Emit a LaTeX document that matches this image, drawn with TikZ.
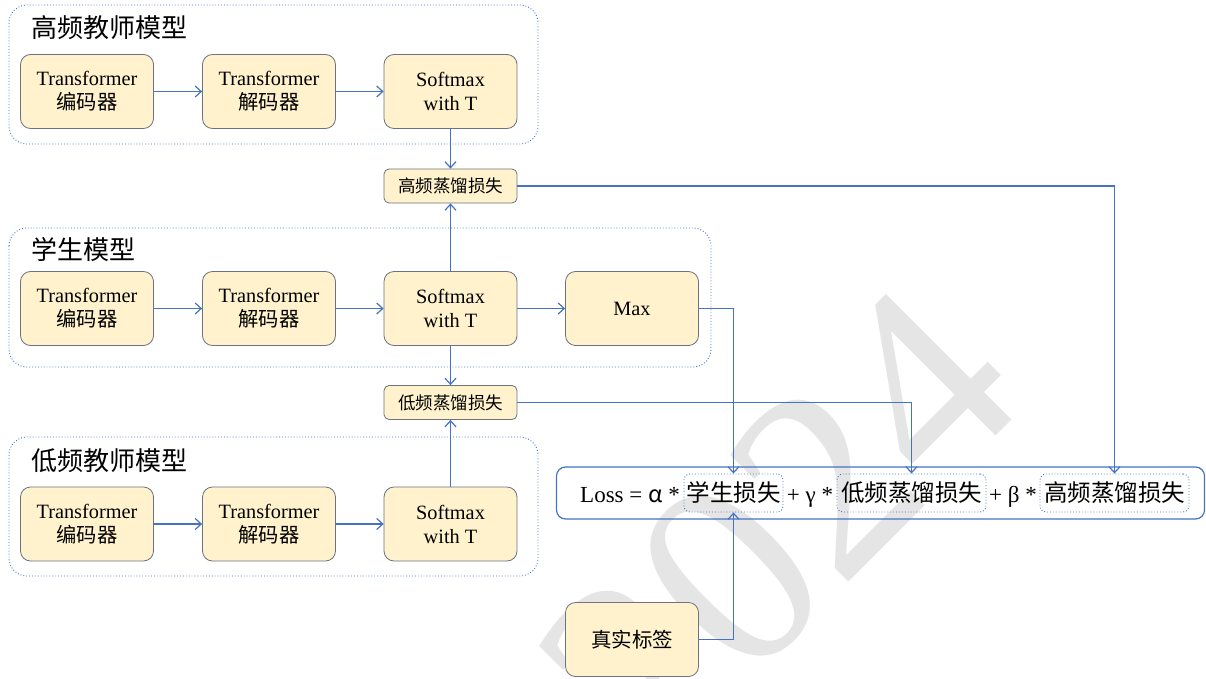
\documentclass[tikz,border=0pt]{standalone}
\usepackage{fontspec}
\setmainfont{Liberation Serif}
\newfontfamily\cjk{Noto Sans CJK SC}
\usetikzlibrary{arrows.meta}
\definecolor{boxfill}{RGB}{255,242,204}
\definecolor{boxline}{RGB}{105,115,130}
\definecolor{lineblue}{RGB}{68,114,196}
\definecolor{wmcol}{RGB}{229,229,229}
\begin{document}
\begin{tikzpicture}[x=1pt,y=-1pt,
  blk/.style={draw=boxline, fill=boxfill, line width=0.8pt, rounded corners=10pt, minimum width=133pt, minimum height=74pt, align=center, inner sep=1pt, font=\fontsize{20.3}{24}\selectfont},
  lossblk/.style={draw=boxline, fill=boxfill, line width=0.8pt, rounded corners=5pt, minimum width=133pt, minimum height=34pt, inner sep=1pt, font=\cjk\fontsize{17.5}{20}\selectfont},
  grp/.style={draw=lineblue, line width=0.9pt, dotted, rounded corners=18pt},
  ttl/.style={anchor=west, inner sep=0pt, font=\cjk\fontsize{26}{30}\selectfont},
  arr/.style={draw=lineblue, line width=1.2pt, -{Straight Barb[length=6pt,width=11pt]}},
  term/.style={draw=lineblue, line width=0.9pt, dotted, rounded corners=6pt, minimum height=38pt, inner sep=1pt, font=\cjk\fontsize{23.5}{26}\selectfont},
  op/.style={inner sep=0pt, font=\fontsize{23}{26}\selectfont}
]
\useasboundingbox (0,0) rectangle (1206,679);
% watermark
\node[text=wmcol, rotate=45, inner sep=0pt, font=\fontsize{270}{270}\selectfont] (wm) at (778,528) {2024};

% groups
\draw[grp] (9,5) rectangle (538,144);
\draw[grp] (9,228) rectangle (711,367);
\draw[grp] (9,437) rectangle (538,576);
\node[ttl] (t1title) at (31,28) {高频教师模型};
\node[ttl] (t2title) at (31,250) {学生模型};
\node[ttl] (t3title) at (31,461) {低频教师模型};

% row 1
\node[blk] (b11) at (87,91.5) {Transformer\\{\cjk 编码器}};
\node[blk] (b12) at (269,91.5) {Transformer\\{\cjk 解码器}};
\node[blk] (b13) at (450.5,91.5) {Softmax\\with T};
% row 2
\node[blk] (b21) at (87,308.5) {Transformer\\{\cjk 编码器}};
\node[blk] (b22) at (269,308.5) {Transformer\\{\cjk 解码器}};
\node[blk] (b23) at (450.5,308.5) {Softmax\\with T};
\node[blk] (mx) at (632,308.5) {Max};
% row 3
\node[blk] (b31) at (87,524) {Transformer\\{\cjk 编码器}};
\node[blk] (b32) at (269,524) {Transformer\\{\cjk 解码器}};
\node[blk] (b33) at (450.5,524) {Softmax\\with T};

% loss boxes
\node[lossblk] (hl) at (450.5,186) {高频蒸馏损失};
\node[lossblk] (ll) at (450.5,402.5) {低频蒸馏损失};

% ground truth
\node[blk, font=\cjk\fontsize{20.5}{24}\selectfont] (gt) at (632,639.5) {真实标签};

% loss formula
\node[draw=lineblue, line width=1.2pt, rounded corners=9pt, minimum width=648pt, minimum height=52pt, inner sep=0pt] (lossbox) at (880.5,493) {};
\node[op, anchor=base west] (lossL) at (580,502) {Loss = {\cjk α} *};
\node[term, minimum width=99pt] (t1) at (733.5,493) {学生损失};
\node[op, anchor=base] (p1) at (810,502) {+ γ *};
\node[term, minimum width=149pt] (t2) at (911.5,493) {低频蒸馏损失};
\node[op, anchor=base] (p2) at (1013,502) {+ β *};
\node[term, minimum width=149pt] (t3) at (1114.5,493) {高频蒸馏损失};

% arrows
\draw[arr] (b11) -- (b12);
\draw[arr] (b12) -- (b13);
\draw[arr] (b21) -- (b22);
\draw[arr] (b22) -- (b23);
\draw[arr] (b23) -- (mx);
\draw[arr] (b31) -- (b32);
\draw[arr] (b32) -- (b33);
\draw[arr] (b13) -- (hl);
\draw[arr] (b23) -- (hl);
\draw[arr] (b23) -- (ll);
\draw[arr] (b33) -- (ll);
\draw[arr] (mx.east) -| (t1.north);
\draw[arr] (ll.east) -| (t2.north);
\draw[arr] (hl.east) -| (t3.north);
\draw[arr] (gt.east) -| (t1.south);
\end{tikzpicture}
\end{document}
